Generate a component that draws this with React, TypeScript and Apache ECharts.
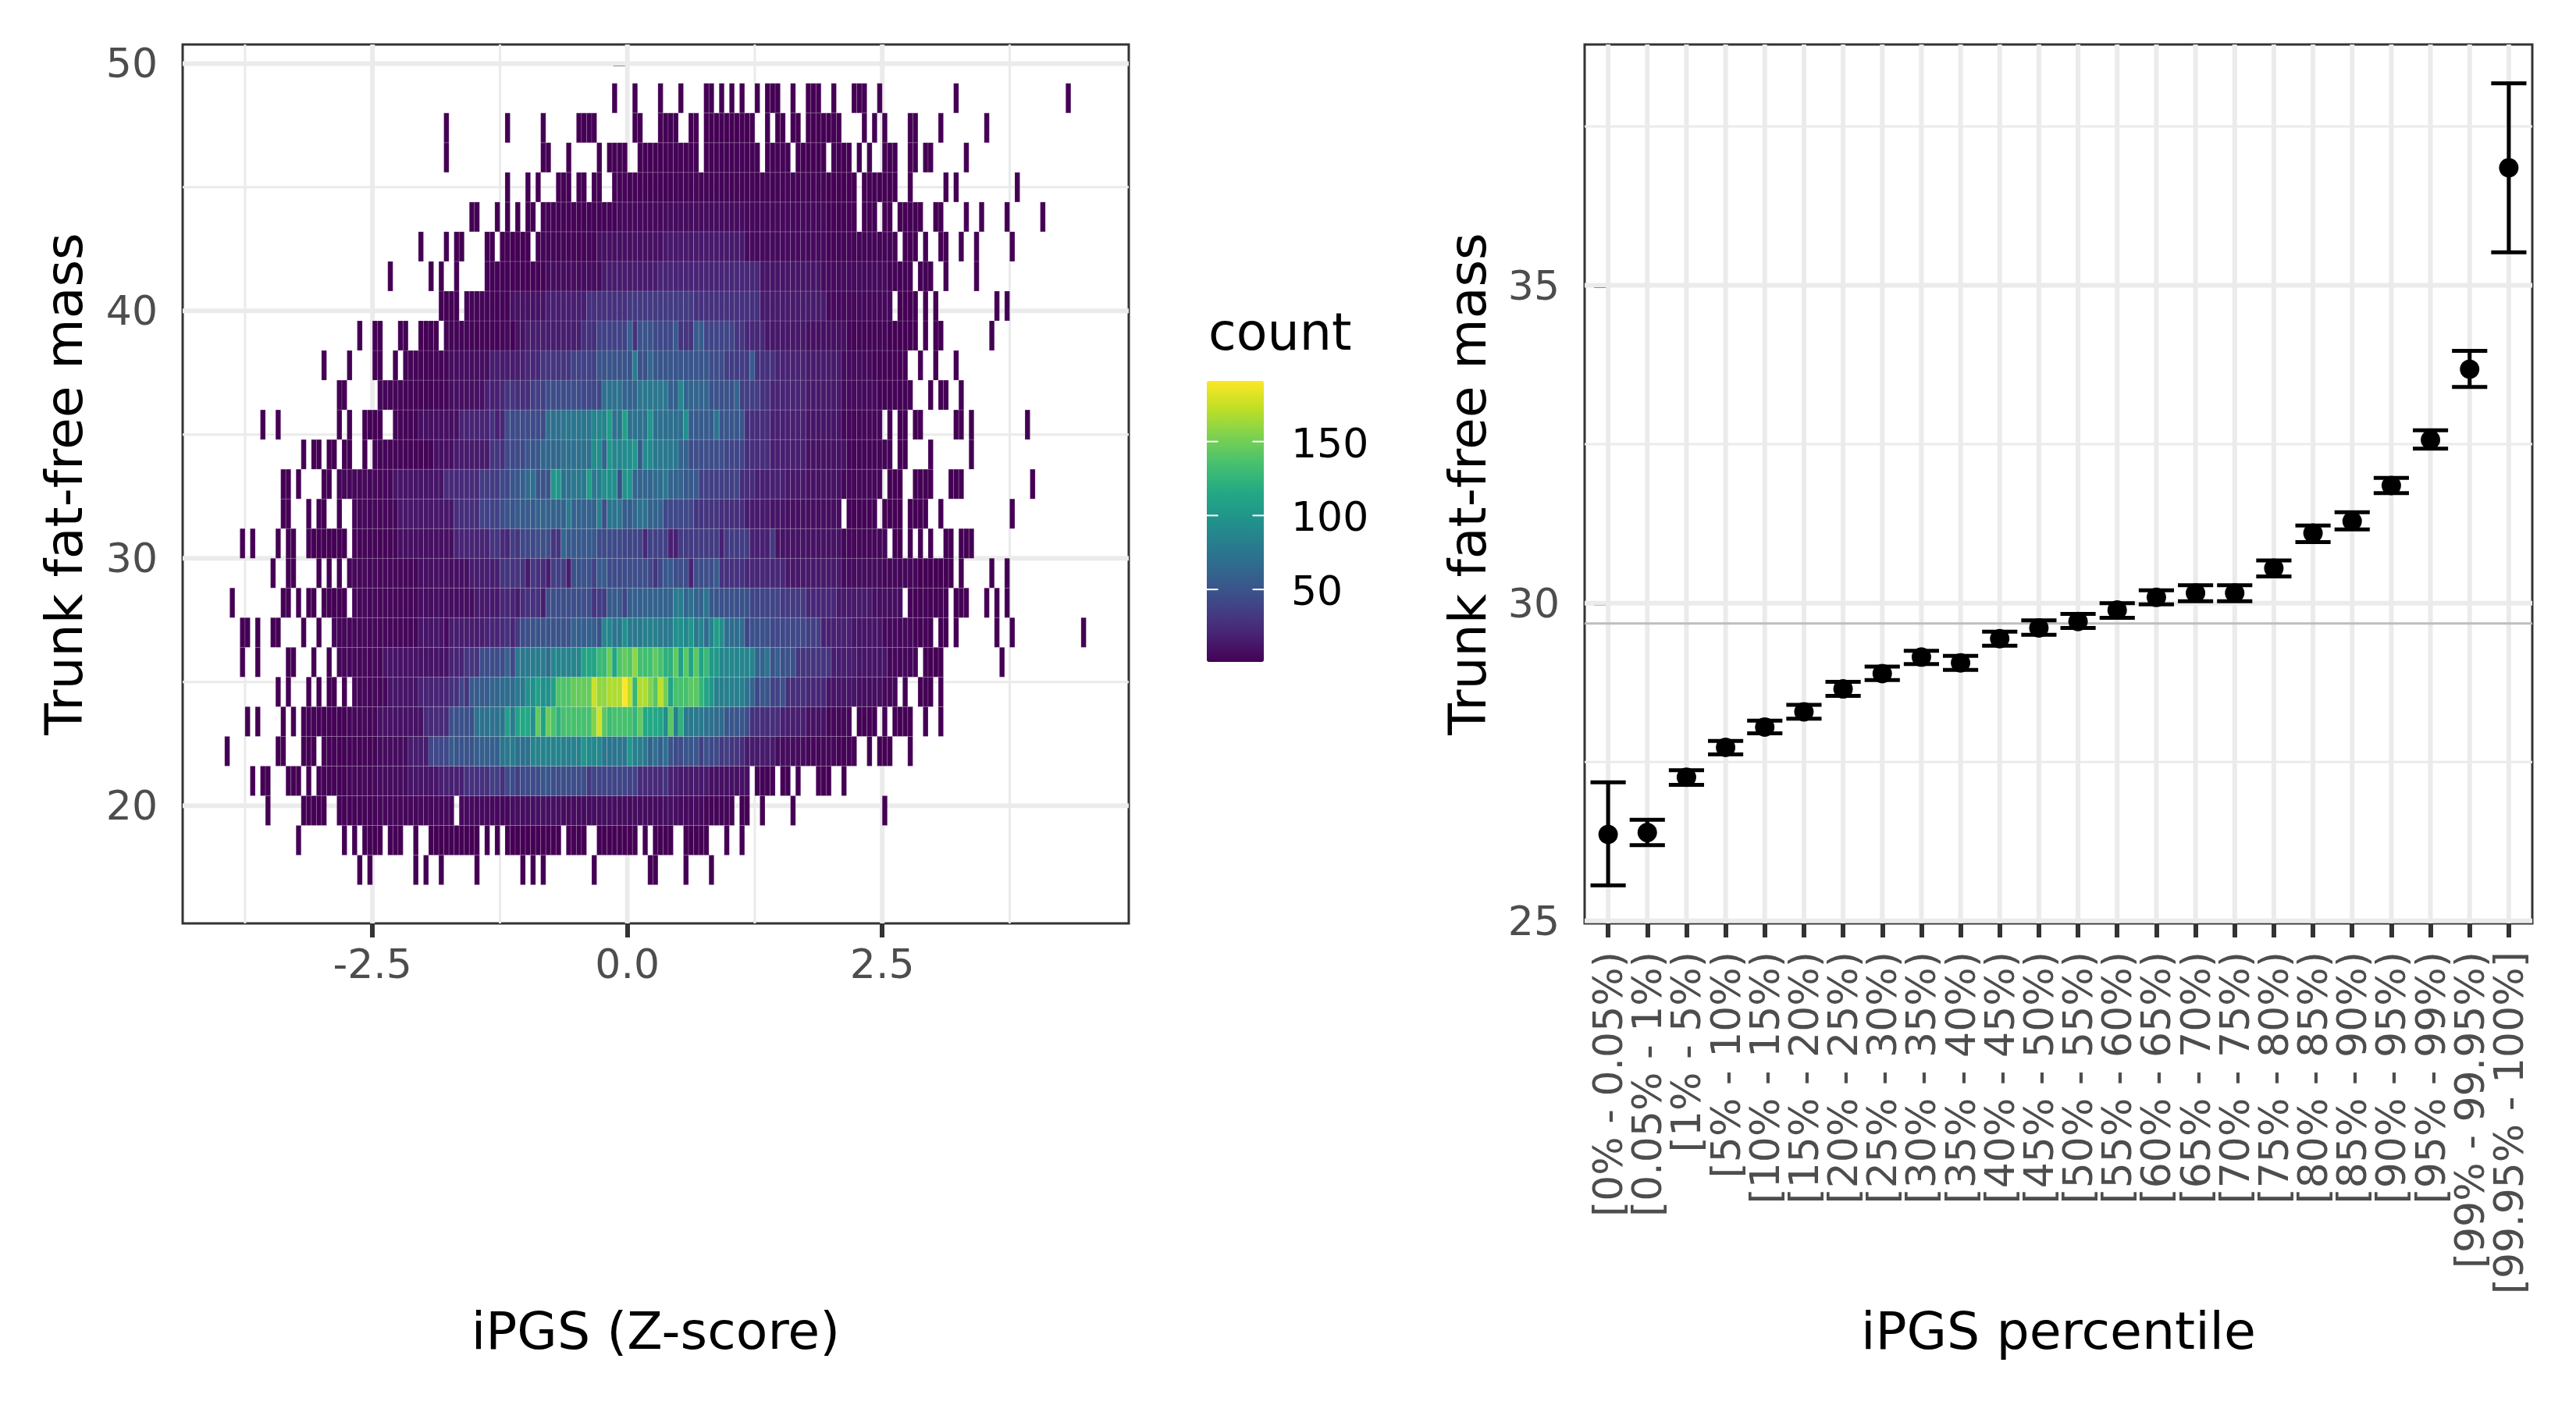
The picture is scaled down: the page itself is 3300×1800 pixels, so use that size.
import React, { useEffect, useRef } from "react";
import * as echarts from "echarts";

// Left panel: bins. A run is [firstColumn, lastColumn, count] or [column, count].
// Column k covers x in [k*binW, (k+1)*binW); row r covers y in [yStart+r*binH, yStart+(r+1)*binH).
const binW = 0.05;
const binH = 1.2;
const yStart = 16.8;

const row00 = [[-53,1],[-51,1],[-42,1],[-40,1],[-37,1],[-30,1],[-21,1],[-19,1],[-17,1],[-7,1],[4,5,1],[11,1],[16,1]];
const row01 = [[-65,1],[-56,1],[-54,1],[-52,-49,1],[-47,-45,1],[-42,1],[-39,-30,1],[-28,1],[-26,1],[-24,-14,1],[-12,-9,1],[-6,1,1],[3,1],[5,8,1],[11,15,1],[19,1],[22,1]];
const row02 = [[-71,1],[-64,-60,1],[-57,-50,2],[-49,-42,4],[-41,-35,5],[-33,-28,6],[-27,-24,5],[-23,-20,8],[-19,-14,9],[-13,-8,7],[-7,-3,8],[-2,6,7],[7,9,9],[10,14,6],[15,20,3],[22,23,1],[26,1],[32,1],[50,1]];
const row03 = [[-74,1],[-72,-71,1],[-67,-65,1],[-63,1],[-61,-56,2],[-55,-50,4],[-49,-44,7],[-43,-38,12],[-37,-33,18],[-32,-28,28],[-27,-26,36],[-25,28],[-24,-23,44],[-22,35],[-21,-18,44],[-17,-16,52],[-15,-9,46],[-8,32],[-7,-1,40],[0,1,38],[2,3,24],[4,6,24],[7,30],[8,9,18],[10,15,14],[16,23,9],[25,28,2],[30,31,1],[33,1],[37,39,1],[42,1]];
const row04 = [[-79,1],[-69,-68,1],[-64,-62,1],[-60,-56,2],[-55,-50,3],[-49,-44,7],[-43,-40,16],[-39,-36,42],[-35,55],[-34,-31,50],[-30,-26,58],[-25,75],[-24,78],[-23,80],[-22,-20,71],[-19,-14,85],[-13,-10,83],[-9,100],[-8,-6,90],[-5,-1,75],[0,100],[1,2,82],[3,76],[4,60],[5,72],[6,58],[7,72],[8,50],[9,10,44],[11,13,52],[14,36],[15,48],[16,17,42],[18,32],[19,36],[20,21,30],[22,25],[23,28,15],[29,34,7],[35,40,4],[41,44,2],[47,1],[49,51,1],[55,1]];
const row05 = [[-75,1],[-73,1],[-68,1],[-66,1],[-64,-56,2],[-55,-50,4],[-49,-41,10],[-40,-36,24],[-35,-31,48],[-30,-26,72],[-25,75],[-24,108],[-23,80],[-22,110],[-21,-20,115],[-19,95],[-18,145],[-17,108],[-16,148],[-15,136],[-14,122],[-13,-8,135],[-7,155],[-6,178],[-5,142],[-4,130],[-3,0,135],[1,125],[2,145],[3,5,115],[6,113],[7,92],[8,142],[9,82],[10,122],[11,14,78],[15,16,72],[17,18,66],[19,22,52],[23,45],[24,25,28],[26,29,26],[30,18],[31,34,17],[35,38,10],[39,43,4],[45,48,1],[50,1],[52,55,1],[58,1],[61,1]];
const row06 = [[-69,1],[-67,1],[-63,1],[-61,1],[-59,-58,1],[-56,1],[-54,-48,4],[-47,-42,12],[-41,-36,20],[-35,-34,28],[-33,40],[-32,30],[-31,-28,55],[-27,-26,62],[-25,-23,68],[-22,-21,78],[-20,-19,95],[-18,108],[-17,-16,95],[-15,108],[-14,-12,138],[-11,-8,146],[-7,176],[-6,-5,160],[-4,-2,168],[-1,191],[0,172],[1,125],[2,3,168],[4,155],[5,140],[6,172],[7,150],[8,112],[9,11,135],[12,13,142],[14,125],[15,112],[16,100],[17,22,82],[23,72],[24,62],[25,42],[26,27,52],[28,29,38],[30,48],[31,34,26],[35,38,22],[39,44,12],[45,49,8],[50,52,4],[54,1],[57,59,1],[61,1]];
const row07 = [[-76,1],[-73,1],[-67,-66,1],[-62,1],[-59,1],[-57,-49,4],[-48,-36,11],[-35,-33,20],[-32,-30,30],[-29,-26,45],[-25,45],[-24,62],[-23,42],[-22,-20,78],[-19,-17,80],[-16,68],[-15,-10,86],[-9,-7,112],[-6,-5,128],[-4,148],[-3,112],[-2,138],[-1,145],[0,140],[1,158],[2,4,133],[5,145],[6,135],[7,8,122],[9,145],[10,108],[11,142],[12,112],[13,142],[14,112],[15,128],[16,17,102],[18,23,88],[24,85],[25,26,62],[27,75],[28,50],[29,58],[30,32,48],[33,34,30],[35,39,30],[40,44,16],[45,50,12],[51,56,4],[58,61,1],[73,1]];
const row08 = [[-76,-75,1],[-73,1],[-70,-69,1],[-64,1],[-61,1],[-58,-42,4],[-41,-37,12],[-36,6],[-35,-29,16],[-28,-26,20],[-25,25],[-24,28],[-23,22],[-22,32],[-21,-20,45],[-19,-12,50],[-11,60],[-10,-7,58],[-6,48],[-5,-4,88],[-3,-2,75],[-1,95],[0,80],[1,2,78],[3,5,84],[6,8,78],[9,10,95],[11,88],[12,100],[13,78],[14,85],[15,68],[16,85],[17,105],[18,92],[19,22,68],[23,40],[24,27,48],[28,34,42],[35,37,36],[38,43,18],[44,49,12],[50,55,5],[56,59,2],[61,62,1],[64,1],[72,1],[75,1],[89,1]];
const row09 = [[-78,1],[-68,-67,1],[-65,1],[-63,-62,1],[-60,-56,1],[-54,-42,4],[-41,-31,8],[-30,-26,14],[-25,-24,22],[-23,20],[-22,15],[-21,25],[-20,-18,28],[-17,16],[-16,-8,46],[-7,30],[-6,-5,35],[-4,-2,55],[-1,40],[0,2,58],[3,8,60],[9,10,80],[11,62],[12,72],[13,14,60],[15,75],[16,17,52],[18,22,48],[23,50],[24,29,40],[30,34,33],[35,40,22],[41,47,14],[48,53,8],[55,62,2],[64,66,1],[70,1],[72,1],[74,1]];
const row10 = [[-70,1],[-67,-66,1],[-61,1],[-59,1],[-57,1],[-55,-42,4],[-41,-32,9],[-31,-27,16],[-26,18],[-25,-21,30],[-20,14],[-19,32],[-18,28],[-17,25],[-16,16],[-15,-13,36],[-12,16],[-11,-8,48],[-7,38],[-6,-5,55],[-4,-1,44],[0,3,46],[4,42],[5,30],[6,42],[7,8,54],[9,11,46],[12,20],[13,16,46],[17,55],[18,22,28],[23,30,22],[31,34,13],[35,41,14],[42,6],[43,49,7],[50,56,4],[57,63,1],[65,1],[71,1],[74,1]];
const row11 = [[-76,1],[-74,1],[-69,1],[-67,-66,1],[-63,-56,1],[-54,-46,3],[-45,-35,9],[-34,-28,20],[-27,-26,30],[-25,25],[-24,22],[-23,35],[-22,30],[-21,-19,42],[-18,-16,46],[-15,-14,30],[-13,65],[-12,-7,54],[-6,-2,44],[-1,2,40],[3,22],[4,7,38],[8,9,18],[10,17,34],[18,18],[19,23,35],[24,27,18],[28,32],[29,34,11],[35,41,10],[42,50,4],[52,53,1],[55,1],[57,1],[59,1],[62,63,1],[65,67,1]];
const row12 = [[-68,-67,1],[-63,1],[-61,-60,1],[-57,1],[-54,-46,4],[-45,-35,13],[-34,-30,26],[-29,-26,38],[-25,45],[-24,-23,50],[-22,-19,55],[-18,-13,60],[-12,78],[-11,-7,60],[-6,82],[-5,46],[-4,-2,75],[-1,0,56],[1,64],[2,3,72],[4,6,60],[7,12,42],[13,17,30],[18,22,26],[23,27,15],[28,30,12],[31,34,9],[35,41,8],[43,48,2],[50,53,1],[55,58,1],[61,1],[75,1]];
const row13 = [[-68,-67,1],[-65,1],[-60,-59,1],[-57,-47,4],[-46,-37,12],[-36,-30,24],[-29,-26,34],[-25,-24,42],[-23,-22,52],[-21,58],[-20,66],[-19,70],[-18,-16,50],[-15,-14,100],[-13,-12,72],[-11,-9,76],[-8,105],[-7,78],[-6,80],[-5,-3,95],[-2,48],[-1,0,98],[1,4,62],[5,6,68],[7,78],[8,10,60],[11,13,54],[14,20,36],[21,40],[22,24,25],[25,30,18],[31,34,13],[35,41,10],[42,49,4],[51,53,1],[56,59,1],[63,65,1],[79,1]];
const row14 = [[-64,1],[-62,-61,1],[-59,-58,1],[-56,-55,1],[-52,1],[-50,-39,3],[-38,-35,9],[-34,-28,15],[-27,-26,30],[-25,28],[-24,-21,43],[-20,-18,52],[-17,-14,64],[-13,-8,70],[-7,-6,92],[-5,62],[-4,102],[-3,-2,88],[-1,0,92],[1,100],[2,55],[3,4,90],[5,9,77],[10,11,60],[12,18,46],[19,21,40],[22,38],[23,27,26],[28,34,17],[35,42,10],[43,51,3],[53,54,1],[59,1],[67,1]];
const row15 = [[-72,1],[-69,1],[-57,1],[-55,1],[-52,-49,1],[-46,-42,3],[-41,-34,9],[-33,-28,20],[-27,28],[-26,18],[-25,22],[-24,-17,44],[-16,-14,70],[-13,-8,75],[-7,-5,86],[-4,105],[-3,-2,72],[-1,108],[0,3,72],[4,100],[5,10,70],[11,95],[12,16,55],[17,75],[18,22,52],[23,27,26],[28,34,18],[35,41,12],[42,49,4],[51,1],[53,54,1],[56,57,1],[64,65,1],[67,1],[78,1]];
const row16 = [[-57,-56,1],[-49,-36,3],[-35,-29,9],[-28,-26,18],[-25,22],[-24,-23,30],[-22,-20,26],[-19,-17,36],[-16,-10,45],[-9,-6,41],[-5,-2,72],[-1,1,60],[2,7,76],[8,9,58],[10,88],[11,15,62],[16,20,49],[21,62],[22,25,36],[26,27,28],[28,34,20],[35,41,14],[42,48,6],[49,55,2],[59,1],[61,62,1],[65,1]];
const row17 = [[-60,1],[-55,1],[-50,-49,1],[-46,1],[-44,-36,3],[-35,-28,8],[-27,-26,16],[-25,-22,16],[-21,18],[-20,-18,22],[-17,-12,30],[-11,-7,38],[-6,0,50],[1,80],[2,3,48],[4,64],[5,8,52],[9,14,51],[15,52],[16,18,45],[19,23,35],[24,55],[25,28,28],[29,34,19],[35,41,15],[42,47,6],[48,54,2],[57,1],[60,1],[64,1]];
const row18 = [[-53,1],[-50,-49,1],[-45,-44,1],[-41,-38,1],[-36,-26,3],[-25,4],[-24,6],[-23,2],[-22,-21,10],[-20,-10,16],[-9,-7,27],[-6,-1,38],[0,60],[1,28],[2,4,50],[5,8,42],[9,56],[10,12,30],[13,14,55],[15,20,40],[21,22,30],[23,26,22],[27,34,13],[35,42,9],[43,50,3],[51,56,1],[58,1],[60,61,1],[71,1]];
const row19 = [[-37,-34,1],[-32,-24,3],[-23,-17,10],[-16,-9,17],[-8,-1,28],[0,6,33],[7,12,34],[13,25,28],[26,38,15],[39,51,5],[53,56,1],[58,1],[60,1],[72,1],[74,1]];
const row20 = [[-47,1],[-39,1],[-37,1],[-34,1],[-28,-17,2],[-16,-6,7],[-5,5,15],[6,18,20],[19,25,22],[26,37,12],[38,50,6],[51,55,2],[57,59,1],[62,1],[68,1]];
const row21 = [[-41,1],[-36,1],[-34,-33,1],[-28,-27,1],[-25,-20,1],[-18,-7,3],[-6,6,9],[7,22,14],[23,38,6],[39,52,3],[54,56,1],[58,1],[61,62,1],[65,1],[68,1],[75,1]];
const row22 = [[-31,-30,1],[-26,1],[-24,1],[-22,1],[-20,-19,1],[-17,-3,2],[-2,6,5],[7,22,7],[23,38,5],[39,44,2],[46,48,1],[50,51,1],[53,57,1],[60,61,1],[66,1],[69,1],[74,1],[81,1]];
const row23 = [[-24,1],[-20,1],[-18,1],[-14,-12,1],[-10,-9,1],[-7,-6,1],[-3,8,2],[9,38,3],[39,44,1],[46,52,1],[55,1],[62,1],[64,1],[76,1]];
const row24 = [[-36,1],[-17,-16,1],[-12,1],[-6,1],[-4,-1,1],[2,6,1],[7,13,2],[15,25,2],[27,31,2],[33,38,1],[40,43,1],[45,1],[47,1],[50,52,1],[55,56,1],[58,59,1],[66,1]];
const row25 = [[-36,1],[-24,1],[-17,1],[-10,-7,1],[1,2,1],[6,9,1],[12,13,1],[15,24,1],[27,1],[29,30,1],[32,33,1],[35,41,1],[46,1],[48,1],[50,1],[55,56,1],[61,1],[70,1]];
const row26 = [[-3,1],[1,1],[6,1],[10,1],[15,16,1],[18,1],[20,1],[22,1],[25,1],[27,29,1],[32,1],[35,37,1],[40,1],[44,46,1],[49,1],[64,1],[86,1]];
const heatRows = [row00,row01,row02,row03,row04,row05,row06,row07,row08,row09,row10,row11,row12,row13,row14,row15,row16,row17,row18,row19,row20,row21,row22,row23,row24,row25,row26];

const viridis = ["#440154","#482475","#414487","#355f8d","#2a788e","#21918c","#22a884","#44bf70","#7ad151","#bddf26","#fde725"];
const countMin = 1;
const countMax = 191;
const countTicks = [50, 100, 150];

const leftXTicks = [-2.5, 0, 2.5];
const leftXMinor = [-3.75, -1.25, 1.25, 3.75];
const leftYTicks = [20, 30, 40, 50];
const leftYMinor = [25, 35, 45];

// Right panel
const percentiles = ["[0% - 0.05%)","[0.05% - 1%)","[1% - 5%)","[5% - 10%)","[10% - 15%)","[15% - 20%)","[20% - 25%)","[25% - 30%)","[30% - 35%)","[35% - 40%)","[40% - 45%)","[45% - 50%)","[50% - 55%)","[55% - 60%)","[60% - 65%)","[65% - 70%)","[70% - 75%)","[75% - 80%)","[80% - 85%)","[85% - 90%)","[90% - 95%)","[95% - 99%)","[99% - 99.95%)","[99.95% - 100%]"];
const means = [26.36,26.39,27.26,27.73,28.05,28.29,28.65,28.89,29.15,29.06,29.44,29.61,29.71,29.89,30.09,30.16,30.16,30.55,31.10,31.29,31.85,32.57,33.68,36.85];
const lows = [25.56,26.19,27.14,27.62,27.95,28.18,28.54,28.79,29.04,28.95,29.33,29.50,29.61,29.77,29.98,30.03,30.03,30.42,30.96,31.16,31.73,32.43,33.40,35.52];
const highs = [27.18,26.59,27.37,27.83,28.15,28.40,28.76,29.00,29.25,29.17,29.55,29.73,29.83,30.00,30.20,30.28,30.28,30.67,31.22,31.43,31.97,32.72,33.97,38.18];
const referenceLine = 29.68;
const rightYTicks = [25, 30, 35];
const rightYMinor = [27.5, 32.5, 37.5];

const FONT = "DejaVu Sans";
const GRID_COLOR = "#EBEBEB";
const INK = "#333333";

const LEFT = { x0: -4.362, x1: 4.918, y0: 15.24, y1: 50.77 };
const RIGHT = { x0: -0.6, x1: 23.6, y0: 24.96, y1: 38.79 };

function heatData() {
  const out: number[][] = [];
  heatRows.forEach((runs, r) => {
    runs.forEach((run) => {
      const from = run[0];
      const to = run.length === 3 ? run[1] : run[0];
      const count = run[run.length - 1];
      for (let k = from; k <= to; k++) out.push([k * binW, yStart + r * binH, count]);
    });
  });
  return out;
}

function gridLines(axisIdx: number, values: number[], vertical: boolean, width: number, box: any, z: number) {
  return {
    type: "custom",
    xAxisIndex: axisIdx,
    yAxisIndex: axisIdx,
    silent: true,
    z,
    clip: true,
    data: values.map((v) => [v]),
    encode: { x: vertical ? 0 : [], y: vertical ? [] : 0 },
    renderItem: (_p: any, api: any) => {
      const v = api.value(0);
      const a = vertical ? api.coord([v, box.y0]) : api.coord([box.x0, v]);
      const b = vertical ? api.coord([v, box.y1]) : api.coord([box.x1, v]);
      return {
        type: "line",
        shape: { x1: a[0], y1: a[1], x2: b[0], y2: b[1] },
        style: { stroke: GRID_COLOR, lineWidth: width },
      };
    },
  };
}

function valueAxis(gridIndex: number, min: number, max: number, ticks: number[], extra: any, labelExtra: any) {
  return {
    type: "value",
    gridIndex,
    min,
    max,
    scale: true,
    splitLine: { show: false },
    axisLine: { show: false },
    axisTick: { show: true, customValues: ticks, length: 18, lineStyle: { width: 6, color: INK } },
    axisLabel: { show: true, customValues: ticks, showMinLabel: true, showMaxLabel: true, color: "#4D4D4D", fontFamily: FONT, fontSize: 52, ...labelExtra },
    nameLocation: "middle",
    nameTextStyle: { color: "#000000", fontFamily: FONT, fontSize: 66.5, verticalAlign: "middle" },
    ...extra,
  };
}

export default function App() {
  const ref = useRef<HTMLDivElement>(null);
  useEffect(() => {
    if (!ref.current) return;
    const chart = echarts.init(ref.current, undefined, { renderer: "svg" });
    const barLeft = 1546;
    const barTop = 488;
    const barW = 73;
    const barH = 360;
    // The category band of the right panel: one band per percentile, inside the panel's 0.6-band padding.
    const panelLeft = 2030;
    const panelWidth = 1214;
    const bandWidth = panelWidth / (RIGHT.x1 - RIGHT.x0);
    const labelGridLeft = panelLeft + ((-0.5 - RIGHT.x0) * bandWidth);
    const labelGridWidth = percentiles.length * bandWidth;
    const tickGraphics: any[] = [];
    countTicks.forEach((c) => {
      const y = barTop + barH - ((c - countMin) / (countMax - countMin)) * barH;
      tickGraphics.push(
        { type: "line", z: 50, shape: { x1: barLeft, y1: y, x2: barLeft + 14.5, y2: y }, style: { stroke: "#ffffff", lineWidth: 2 } },
        { type: "line", z: 50, shape: { x1: barLeft + barW - 14.5, y1: y, x2: barLeft + barW, y2: y }, style: { stroke: "#ffffff", lineWidth: 2 } },
        { type: "text", z: 50, x: 1654, y: y + 2, style: { text: String(c), fontFamily: FONT, fontSize: 52, fill: "#000000", align: "left", verticalAlign: "middle" } }
      );
    });
    chart.setOption({
      animation: false,
      backgroundColor: "#ffffff",
      grid: [
        { left: 234, top: 57, width: 1212, height: 1126, show: true, borderColor: INK, borderWidth: 3, backgroundColor: "#ffffff", containLabel: false },
        { left: panelLeft, top: 57, width: panelWidth, height: 1126, show: true, borderColor: INK, borderWidth: 3, backgroundColor: "#ffffff", containLabel: false },
        { left: labelGridLeft, top: 57, width: labelGridWidth, height: 1126, show: false, containLabel: false },
      ],
      xAxis: [
        valueAxis(0, LEFT.x0, LEFT.x1, leftXTicks, { name: "iPGS (Z-score)", nameGap: 522 }, { margin: 26, formatter: (v: number) => v.toFixed(1) }),
        {
          type: "value",
          gridIndex: 1,
          min: RIGHT.x0,
          max: RIGHT.x1,
          scale: true,
          splitLine: { show: false },
          axisLine: { show: false },
          axisTick: { show: false },
          axisLabel: { show: false },
          name: "iPGS percentile",
          nameGap: 522,
          nameLocation: "middle",
          nameTextStyle: { color: "#000000", fontFamily: FONT, fontSize: 66.5, verticalAlign: "middle" },
        },
        {
          type: "category",
          gridIndex: 2,
          data: percentiles,
          boundaryGap: true,
          splitLine: { show: false },
          axisLine: { show: false },
          axisTick: { show: true, alignWithLabel: true, interval: 0, length: 18, lineStyle: { width: 6, color: INK } },
          axisLabel: { show: true, interval: 0, rotate: 90, margin: 36, color: "#4D4D4D", fontFamily: FONT, fontSize: 52 },
        },
      ],
      yAxis: [
        valueAxis(0, LEFT.y0, LEFT.y1, leftYTicks, { name: "Trunk fat-free mass", nameGap: 152 }, { margin: 32, formatter: (v: number) => String(v) }),
        valueAxis(1, RIGHT.y0, RIGHT.y1, rightYTicks, { name: "Trunk fat-free mass", nameGap: 150 }, { margin: 32, formatter: (v: number) => String(v) }),
        { type: "value", gridIndex: 2, show: false, min: RIGHT.y0, max: RIGHT.y1, splitLine: { show: false } },
      ],
      visualMap: {
        type: "continuous",
        show: true,
        seriesIndex: 4,
        dimension: 2,
        min: countMin,
        max: countMax,
        calculable: false,
        hoverLink: false,
        realtime: false,
        left: barLeft,
        top: barTop,
        padding: 0,
        itemWidth: barW,
        itemHeight: barH,
        text: ["", ""],
        inRange: { color: viridis },
      },
      graphic: [
        { type: "text", z: 50, x: 1548, y: 425, style: { text: "count", fontFamily: FONT, fontSize: 65, fill: "#000000", align: "left", verticalAlign: "middle" } },
        ...tickGraphics,
      ],
      series: [
        gridLines(0, leftXMinor, true, 3, LEFT, 1),
        gridLines(0, leftYMinor, false, 3, LEFT, 1),
        gridLines(0, leftXTicks, true, 6, LEFT, 1),
        gridLines(0, leftYTicks, false, 6, LEFT, 1),
        {
          type: "custom",
          name: "count",
          xAxisIndex: 0,
          yAxisIndex: 0,
          z: 2,
          data: heatData(),
          encode: { x: 0, y: 1 },
          renderItem: (_p: any, api: any) => {
            const x = api.value(0);
            const y = api.value(1);
            const a = api.coord([x, y + binH]);
            const b = api.coord([x + binW, y]);
            return {
              type: "rect",
              shape: { x: a[0], y: a[1], width: b[0] - a[0], height: b[1] - a[1] },
              style: { fill: api.visual("color"), stroke: "rgba(255,255,255,0.15)", lineWidth: 1 },
            };
          },
        },
        gridLines(1, rightYMinor, false, 3, RIGHT, 1),
        gridLines(1, percentiles.map((_, i) => i), true, 6, RIGHT, 1),
        gridLines(1, rightYTicks, false, 6, RIGHT, 1),
        {
          type: "custom",
          xAxisIndex: 1,
          yAxisIndex: 1,
          silent: true,
          z: 2,
          data: [[referenceLine]],
          encode: { y: 0 },
          renderItem: (_p: any, api: any) => {
            const a = api.coord([RIGHT.x0, api.value(0)]);
            const b = api.coord([RIGHT.x1, api.value(0)]);
            return { type: "line", shape: { x1: a[0], y1: a[1], x2: b[0], y2: b[1] }, style: { stroke: "#BEBEBE", lineWidth: 3 } };
          },
        },
        {
          type: "custom",
          name: "interval",
          xAxisIndex: 1,
          yAxisIndex: 1,
          z: 3,
          data: percentiles.map((_, i) => [i, lows[i], highs[i]]),
          encode: { x: 0, y: [1, 2] },
          renderItem: (_p: any, api: any) => {
            const i = api.value(0);
            const lo = api.coord([i, api.value(1)]);
            const hi = api.coord([i, api.value(2)]);
            const half = api.size([0.9, 0])[0] / 2;
            const style = { stroke: "#000000", lineWidth: 5 };
            return {
              type: "group",
              children: [
                { type: "line", shape: { x1: lo[0], y1: lo[1], x2: hi[0], y2: hi[1] }, style },
                { type: "line", shape: { x1: lo[0] - half, y1: lo[1], x2: lo[0] + half, y2: lo[1] }, style },
                { type: "line", shape: { x1: hi[0] - half, y1: hi[1], x2: hi[0] + half, y2: hi[1] }, style },
              ],
            };
          },
        },
        {
          type: "scatter",
          name: "mean",
          xAxisIndex: 1,
          yAxisIndex: 1,
          z: 4,
          symbol: "circle",
          symbolSize: 25,
          itemStyle: { color: "#000000", opacity: 1 },
          data: means.map((m, i) => [i, m]),
        },
      ],
    });
    return () => chart.dispose();
  }, []);
  return <div ref={ref} style={{ position: "absolute", left: 0, top: 0, width: 3300, height: 1800 }} />;
}
